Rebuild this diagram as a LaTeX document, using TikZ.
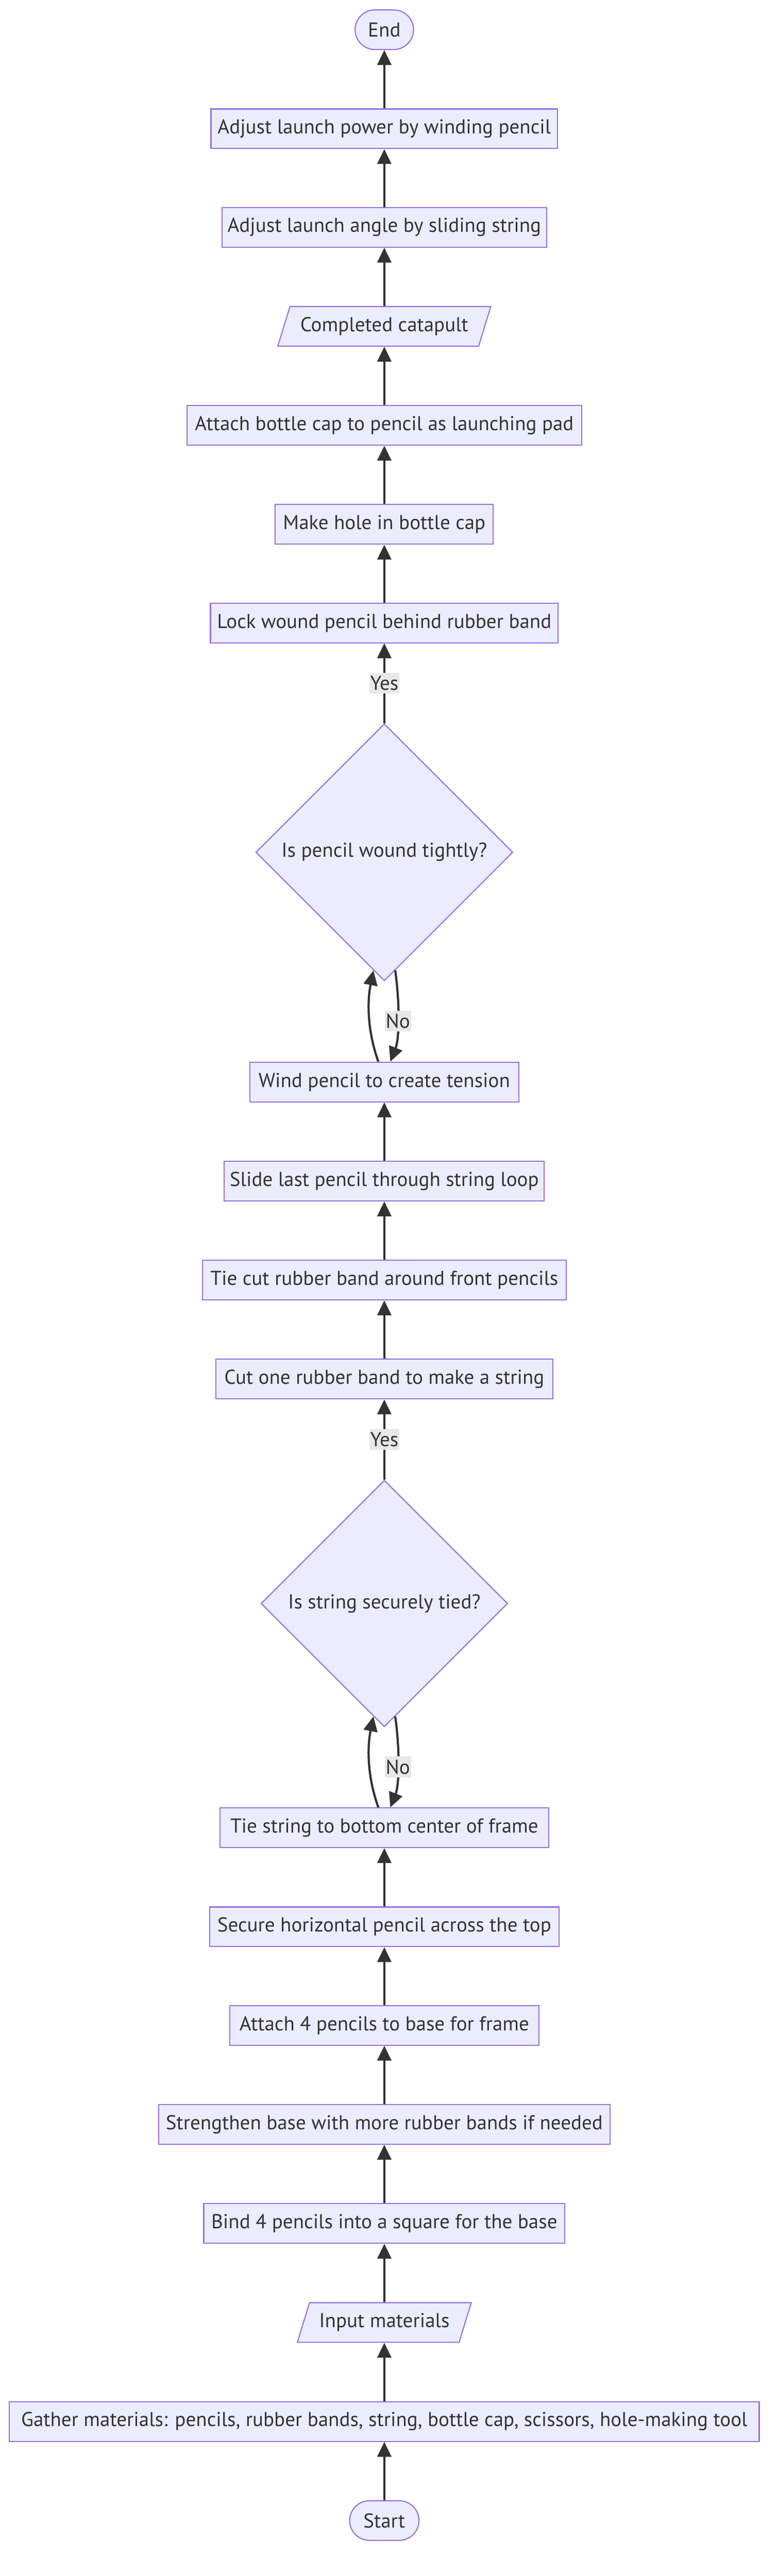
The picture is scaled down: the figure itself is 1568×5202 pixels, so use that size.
\documentclass[tikz,border=0pt]{standalone}
\usepackage{fontspec}
\setmainfont{PT Sans}
\usetikzlibrary{shapes.geometric,arrows.meta}

\definecolor{nodefill}{HTML}{ECECFF}
\definecolor{nodeline}{HTML}{9370DB}
\definecolor{ink}{HTML}{333333}
\definecolor{lblfill}{HTML}{E8E8E8}

\tikzset{
  every node/.style={font=\fontsize{20.3pt}{24pt}\selectfont, text=ink},
  procbox/.style={draw=nodeline, fill=nodefill, line width=1.1pt, minimum height=40pt, inner xsep=3pt},
  termnode/.style={procbox, rounded corners=20pt},
  ionode/.style={draw=nodeline, fill=nodefill, line width=1.1pt, trapezium,
    trapezium left angle=64, trapezium right angle=116, trapezium stretches body,
    minimum height=40pt, inner xsep=0pt},
  decnode/.style={draw=nodeline, fill=nodefill, line width=1.1pt, diamond, aspect=1, inner sep=0pt},
  flowarr/.style={draw=ink, line width=2.2pt, -{Triangle[length=15pt,width=14pt]}},
  edgelbl/.style={fill=lblfill, inner sep=1pt, minimum height=21pt}
}

\begin{document}
\begin{tikzpicture}[x=0.5pt,y=-0.5pt]
\useasboundingbox (0,0) rectangle (1568,5202);

\node[termnode, minimum width=59pt] (end) at (776,60) {End};
\node[procbox, minimum width=350pt] (power) at (776,260) {Adjust launch power by winding pencil};
\node[procbox, minimum width=328pt] (angle) at (776,459) {Adjust launch angle by sliding string};
\node[ionode, minimum width=215pt] (done) at (776,659) {Completed catapult};
\node[procbox, minimum width=398.5pt] (cap) at (776,859) {Attach bottle cap to pencil as launching pad};
\node[procbox, minimum width=220pt] (hole) at (776,1059) {Make hole in bottle cap};
\node[procbox, minimum width=351pt] (lock) at (776,1258) {Lock wound pencil behind rubber band};
\node[decnode, minimum size=259.5pt] (tight) at (776,1721) {Is pencil wound tightly?};
\node[procbox, minimum width=271.5pt] (wind) at (776,2185) {Wind pencil to create tension};
\node[procbox, minimum width=323pt] (slide) at (776,2385) {Slide last pencil through string loop};
\node[procbox, minimum width=367.5pt] (tiecut) at (776,2585) {Tie cut rubber band around front pencils};
\node[procbox, minimum width=340pt] (cutone) at (776,2785) {Cut one rubber band to make a string};
\node[decnode, minimum size=249pt] (secured) at (776,3238) {Is string securely tied?};
\node[procbox, minimum width=332pt] (tiestr) at (776,3691) {Tie string to bottom center of frame};
\node[procbox, minimum width=353pt] (toppencil) at (776,3891) {Secure horizontal pencil across the top};
\node[procbox, minimum width=312pt] (frame) at (776,4090) {Attach 4 pencils to base for frame};
\node[procbox, minimum width=455.5pt] (strength) at (776,4290) {Strengthen base with more rubber bands if needed};
\node[procbox, minimum width=364.5pt] (base) at (776,4490) {Bind 4 pencils into a square for the base};
\node[ionode, minimum width=175.5pt] (input) at (776,4690) {Input materials};
\node[procbox, minimum width=757pt] (gather) at (776,4890) {Gather materials: pencils, rubber bands, string, bottle cap, scissors, hole-making tool};
\node[termnode, minimum width=70pt] (start) at (776,5090) {Start};

\draw[flowarr] (start) -- (gather);
\draw[flowarr] (gather) -- (input);
\draw[flowarr] (input) -- (base);
\draw[flowarr] (base) -- (strength);
\draw[flowarr] (strength) -- (frame);
\draw[flowarr] (frame) -- (toppencil);
\draw[flowarr] (toppencil) -- (tiestr);
% loop at the string check
\draw[flowarr] ([xshift=-6pt]tiestr.north) .. controls +(-10pt,27.5pt) and +(-7pt,-35pt) .. ([xshift=-11pt,yshift=11pt]secured.south);
\draw[flowarr] ([xshift=11pt,yshift=11pt]secured.south) .. controls +(5pt,-36pt) and +(9pt,22.5pt) .. ([xshift=6pt]tiestr.north) node[edgelbl, pos=0.5] {No};
\draw[flowarr] (secured) -- node[edgelbl] {Yes} (cutone);
\draw[flowarr] (cutone) -- (tiecut);
\draw[flowarr] (tiecut) -- (slide);
\draw[flowarr] (slide) -- (wind);
% loop at the winding check
\draw[flowarr] ([xshift=-6pt]wind.north) .. controls +(-10pt,27.5pt) and +(-7pt,-35pt) .. ([xshift=-11pt,yshift=11pt]tight.south);
\draw[flowarr] ([xshift=11pt,yshift=11pt]tight.south) .. controls +(5pt,-36pt) and +(9pt,22.5pt) .. ([xshift=6pt]wind.north) node[edgelbl, pos=0.5] {No};
\draw[flowarr] (tight) -- node[edgelbl] {Yes} (lock);
\draw[flowarr] (lock) -- (hole);
\draw[flowarr] (hole) -- (cap);
\draw[flowarr] (cap) -- (done);
\draw[flowarr] (done) -- (angle);
\draw[flowarr] (angle) -- (power);
\draw[flowarr] (power) -- (end);

\end{tikzpicture}
\end{document}
